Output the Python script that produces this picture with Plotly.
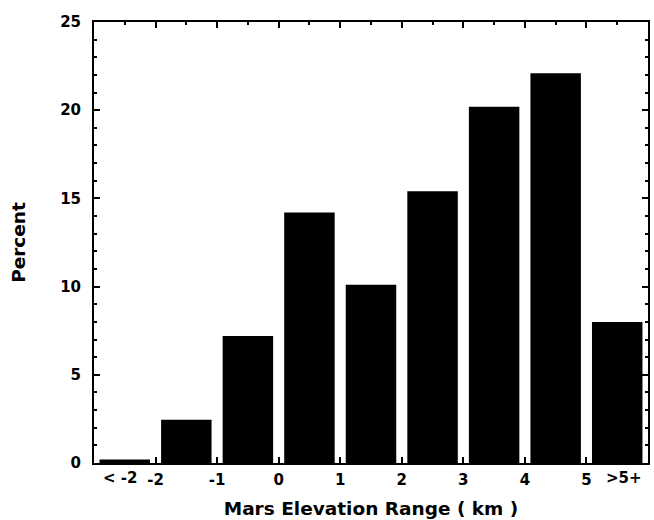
import plotly.graph_objects as go

centers = [-2.5, -1.5, -0.5, 0.5, 1.5, 2.5, 3.5, 4.5, 5.5]
percent = [0.2, 2.45, 7.2, 14.2, 10.1, 15.4, 20.2, 22.1, 8.0]
tick_vals = [-2, -1, 0, 1, 2, 3, 4, 5]
tick_text = ["-2", "-1", "0", "1", "2", "3", "4", "5"]
end_labels = ["< -2", ">5+"]
end_label_pos = [-2.58, 5.61]

FONT = "DejaVu Sans"

fig = go.Figure()
fig.add_trace(go.Bar(x=centers, y=percent, width=0.82,
                     marker=dict(color="black", line=dict(width=0))))

axis_common = dict(showline=True, linecolor="black", linewidth=2, mirror="allticks",
                   ticks="inside", tickcolor="black", tickwidth=1.5, showgrid=False,
                   zeroline=False, automargin=False)

fig.update_layout(
    width=654, height=520,
    margin=dict(l=94, r=6, t=22, b=57),
    plot_bgcolor="white", paper_bgcolor="white",
    showlegend=False,
    font=dict(family=FONT, color="black"),
    xaxis=dict(range=[-3, 6], tickvals=tick_vals, ticktext=tick_text, ticklen=6,
               tickfont=dict(size=15, family=FONT, weight="bold"),
               ticklabelstandoff=2,
               title=dict(text="Mars Elevation Range ( km )", standoff=14,
                          font=dict(size=18.5, family=FONT, weight="bold")),
               minor=dict(dtick=0.5, tick0=0, ticks="inside", ticklen=3, tickcolor="black"),
               **axis_common),
    yaxis=dict(range=[0, 25], tickvals=[0, 5, 10, 15, 20, 25], ticklen=6,
               tickfont=dict(size=15, family=FONT, weight="bold"),
               ticklabelstandoff=8,
               title=dict(text="Percent", standoff=30,
                          font=dict(size=18.5, family=FONT, weight="bold")),
               minor=dict(dtick=1, ticks="inside", ticklen=3, tickcolor="black"),
               **axis_common),
)

for lab, pos in zip(end_labels, end_label_pos):
    fig.add_annotation(x=pos, y=0, xref="x", yref="paper", text=lab, showarrow=False,
                       yanchor="top", yshift=-4,
                       font=dict(size=15, family=FONT, weight="bold", color="black"))

fig.write_html("out.html")
